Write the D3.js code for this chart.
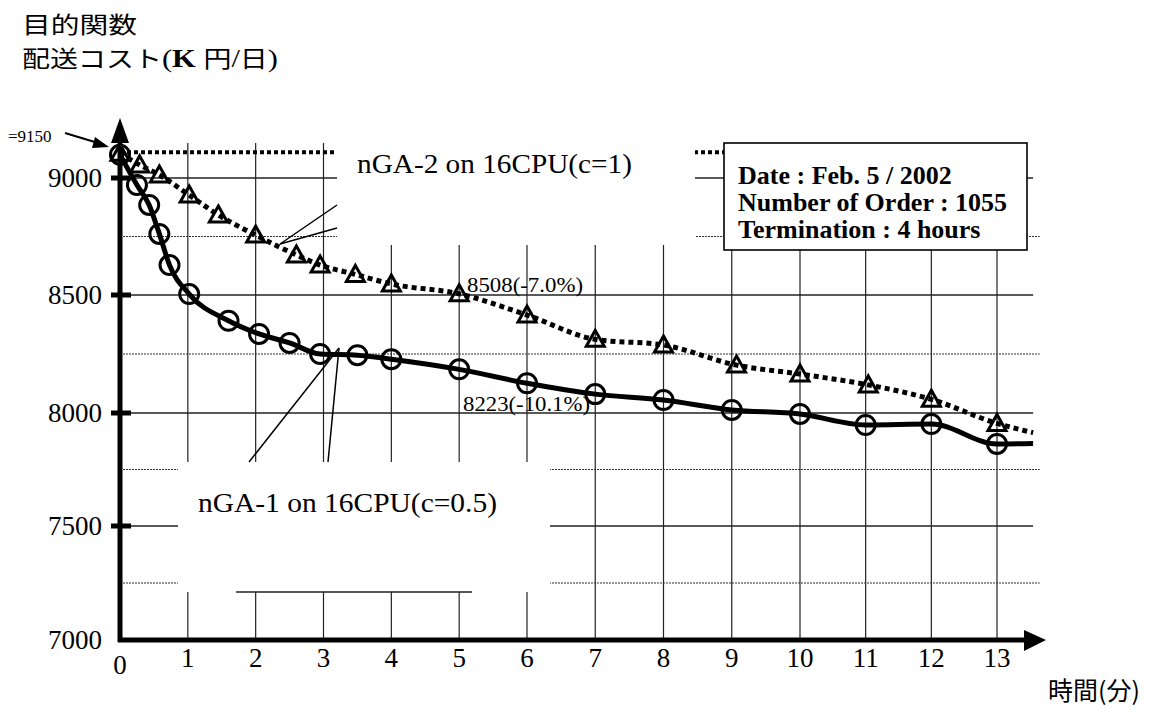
<!DOCTYPE html>
<meta charset="utf-8">
<style>
html,body{margin:0;background:#fff;}
svg{display:block;}
.serif{font-family:"Liberation Serif","Times New Roman",serif;}
.jp{font-family:"Noto Sans CJK JP",sans-serif;}
</style>
<script src="https://d3js.org/d3.v7.min.js"></script>
<body>
<script>
var width = 1154, height = 710;

// nGA-1 on 16CPU(c=0.5)  time (min) / cost (K yen/day)
var ga1Time = [0, 0.25, 0.43, 0.58, 0.73, 1.02, 1.6, 2.05, 2.5, 2.95, 3.5, 4, 5, 6, 7, 8, 9, 10, 11, 12, 13, 13.55];
var ga1Cost = [9100, 8970, 8885, 8761, 8628, 8504, 8391, 8335, 8297, 8250, 8245, 8228, 8185, 8126, 8080, 8055, 8013, 7996, 7947, 7951, 7863, 7865];
// nGA-2 on 16CPU(c=1)
var ga2Time = [0, 0.29, 0.58, 1.02, 1.45, 2.0, 2.6, 2.95, 3.47, 4, 5, 6, 7, 8, 9.07, 10, 11.04, 12, 13, 13.55];
var ga2Cost = [9106, 9056, 9013, 8927, 8842, 8756, 8671, 8628, 8588, 8547, 8505, 8415, 8312, 8288, 8203, 8165, 8119, 8058, 7954, 7913];

var startLevel = 9110;
var xTicks = [0, 1, 2, 3, 4, 5, 6, 7, 8, 9, 10, 11, 12, 13];
var yMajor = [7500, 8000, 8500, 9000];
var yMinor = [7250, 7750, 8250, 8750];
var yLabels = [7000, 7500, 8000, 8500, 9000];
var infoLines = ["Date : Feb. 5 / 2002", "Number of Order : 1055", "Termination : 4 hours"];

// the scanned figure is not quite linear, so calibrate on a few stops
var x = d3.scaleLinear().domain([0, 6, 10, 13]).range([120, 527, 800, 997]);
var y = d3.scaleLinear().domain([7000, 7500, 8000, 8500, 9000, 9150]).range([640, 526, 413, 295, 178, 143]);

var svg = d3.select("body").append("svg")
    .attr("width", width)
    .attr("height", height);

var grid = svg.append("g");

grid.selectAll(".vgrid")
  .data(xTicks.slice(1))
  .enter().append("line")
  .attr("x1", function(d){ return x(d); })
  .attr("x2", function(d){ return x(d); })
  .attr("y1", y(9150))
  .attr("y2", y(7000))
  .attr("stroke", "#222")
  .attr("stroke-width", 1.2);

grid.selectAll(".hmajor")
  .data(yMajor)
  .enter().append("line")
  .attr("x1", x(0))
  .attr("x2", x(13.55))
  .attr("y1", function(d){ return y(d); })
  .attr("y2", function(d){ return y(d); })
  .attr("stroke", "#222")
  .attr("stroke-width", 1.3);

grid.selectAll(".hminor")
  .data(yMinor)
  .enter().append("line")
  .attr("x1", x(0))
  .attr("x2", x(13.65))
  .attr("y1", function(d){ return y(d); })
  .attr("y2", function(d){ return y(d); })
  .attr("stroke", "#333")
  .attr("stroke-width", 1.2)
  .attr("stroke-dasharray", "2,1");

// dotted level of the starting cost
grid.append("line")
  .attr("x1", x(0)).attr("x2", x(12))
  .attr("y1", y(startLevel)).attr("y2", y(startLevel))
  .attr("stroke", "#000")
  .attr("stroke-width", 4)
  .attr("stroke-dasharray", "4,3");

// white areas behind the labels
svg.append("rect").attr("x", 337).attr("y", 120).attr("width", 358).attr("height", 125).attr("fill", "#fff");
svg.append("rect").attr("x", 178).attr("y", 462).attr("width", 372).attr("height", 130).attr("fill", "#fff");
svg.append("line").attr("x1", 236).attr("x2", 472).attr("y1", 592).attr("y2", 592)
  .attr("stroke", "#222").attr("stroke-width", 1.3);

// info box
svg.append("rect").attr("x", 724).attr("y", 143).attr("width", 303).attr("height", 107)
  .attr("fill", "#fff").attr("stroke", "#000").attr("stroke-width", 1.6);
svg.selectAll(".info")
  .data(infoLines)
  .enter().append("text")
  .attr("class", "serif")
  .attr("x", 738)
  .attr("y", function(d, i){ return 184 + i * 27; })
  .attr("font-size", 26)
  .attr("font-weight", "bold")
  .text(function(d){ return d; });

// leader lines
var leaders = [[280, 244, 337, 205], [280, 244, 337, 228], [339, 348, 249, 462], [339, 348, 328, 462]];
svg.selectAll(".leader")
  .data(leaders)
  .enter().append("line")
  .attr("x1", function(d){ return d[0]; })
  .attr("y1", function(d){ return d[1]; })
  .attr("x2", function(d){ return d[2]; })
  .attr("y2", function(d){ return d[3]; })
  .attr("stroke", "#000")
  .attr("stroke-width", 1.5);

// axes
svg.append("line").attr("x1", x(0)).attr("x2", x(0)).attr("y1", y(7000) + 2).attr("y2", 135)
  .attr("stroke", "#000").attr("stroke-width", 5);
svg.append("path").attr("d", "M120,118 L111,143 L129,143 Z").attr("fill", "#000");
svg.append("line").attr("x1", x(0) - 2).attr("x2", 1030).attr("y1", y(7000)).attr("y2", y(7000))
  .attr("stroke", "#000").attr("stroke-width", 5);
svg.append("path").attr("d", "M1046,640 L1024,630 L1024,651 Z").attr("fill", "#000");

svg.selectAll(".ytick")
  .data(yMajor)
  .enter().append("line")
  .attr("x1", 111).attr("x2", 131)
  .attr("y1", function(d){ return y(d); })
  .attr("y2", function(d){ return y(d); })
  .attr("stroke", "#000")
  .attr("stroke-width", 5);

svg.selectAll(".ylab")
  .data(yLabels)
  .enter().append("text")
  .attr("class", "serif")
  .attr("x", 102)
  .attr("y", function(d){ return y(d) + 9; })
  .attr("text-anchor", "end")
  .attr("font-size", 27)
  .text(function(d){ return d; });

svg.selectAll(".xlab")
  .data(xTicks)
  .enter().append("text")
  .attr("class", "serif")
  .attr("x", function(d){ return x(d); })
  .attr("y", function(d){ return d == 0 ? 674 : 667; })
  .attr("text-anchor", "middle")
  .attr("font-size", 27)
  .text(function(d){ return d; });

// series
var line = d3.line()
  .x(function(d){ return x(d[0]); })
  .y(function(d){ return y(d[1]); })
  .curve(d3.curveMonotoneX);

var ga1 = d3.zip(ga1Time, ga1Cost);
var ga2 = d3.zip(ga2Time, ga2Cost);

svg.append("path")
  .datum(ga2)
  .attr("d", line)
  .attr("fill", "none")
  .attr("stroke", "#000")
  .attr("stroke-width", 5)
  .attr("stroke-dasharray", "5,4");

svg.append("path")
  .datum(ga1)
  .attr("d", line)
  .attr("fill", "none")
  .attr("stroke", "#000")
  .attr("stroke-width", 5);

svg.selectAll(".tri")
  .data(ga2.slice(0, -1))
  .enter().append("path")
  .attr("d", "M0,-9 L9,7 L-9,7 Z")
  .attr("transform", function(d){ return "translate(" + x(d[0]) + "," + y(d[1]) + ")"; })
  .attr("fill", "none")
  .attr("stroke", "#000")
  .attr("stroke-width", 3);

svg.selectAll(".circ")
  .data(ga1.slice(0, -1))
  .enter().append("circle")
  .attr("cx", function(d){ return x(d[0]); })
  .attr("cy", function(d){ return y(d[1]); })
  .attr("r", 9.5)
  .attr("fill", "none")
  .attr("stroke", "#000")
  .attr("stroke-width", 3);

// labels
svg.append("text").attr("class", "serif").attr("x", 357).attr("y", 173)
  .attr("font-size", 27).attr("textLength", 275).attr("lengthAdjust", "spacingAndGlyphs")
  .text("nGA-2 on 16CPU(c=1)");
svg.append("text").attr("class", "serif").attr("x", 198).attr("y", 512)
  .attr("font-size", 27).attr("textLength", 299).attr("lengthAdjust", "spacingAndGlyphs")
  .text("nGA-1 on 16CPU(c=0.5)");
svg.append("text").attr("class", "serif").attr("x", 467).attr("y", 292)
  .attr("font-size", 22).attr("textLength", 116).attr("lengthAdjust", "spacingAndGlyphs")
  .text("8508(-7.0%)");
svg.append("text").attr("class", "serif").attr("x", 463).attr("y", 411)
  .attr("font-size", 22).attr("textLength", 127).attr("lengthAdjust", "spacingAndGlyphs")
  .text("8223(-10.1%)");

// title, two lines
svg.append("text").attr("class", "jp").attr("x", 22).attr("y", 33)
  .attr("font-size", 23).attr("textLength", 115).attr("lengthAdjust", "spacingAndGlyphs")
  .text("目的関数");
var t2 = svg.append("text").attr("class", "jp").attr("x", 22).attr("y", 67)
  .attr("font-size", 23).attr("textLength", 256).attr("lengthAdjust", "spacingAndGlyphs");
t2.append("tspan").text("配送コスト");
t2.append("tspan").attr("class", "serif").attr("font-size", 25).text("(");
t2.append("tspan").attr("class", "serif").attr("font-size", 25).attr("font-weight", "bold").text("K ");
t2.append("tspan").text("円");
t2.append("tspan").attr("class", "serif").attr("font-size", 25).text("/");
t2.append("tspan").text("日");
t2.append("tspan").attr("class", "serif").attr("font-size", 25).text(")");

svg.append("text").attr("class", "jp").attr("x", 1140).attr("y", 700)
  .attr("font-size", 25).attr("text-anchor", "end").text("時間(分)");

// =9150 pointer
svg.append("text").attr("class", "serif").attr("x", 8).attr("y", 142)
  .attr("font-size", 17).text("=9150");
svg.append("line").attr("x1", 65).attr("y1", 133).attr("x2", 98).attr("y2", 143)
  .attr("stroke", "#000").attr("stroke-width", 2);
svg.append("path").attr("d", "M109,147 L95,137 L92,148 Z").attr("fill", "#000");
</script>
</body>
